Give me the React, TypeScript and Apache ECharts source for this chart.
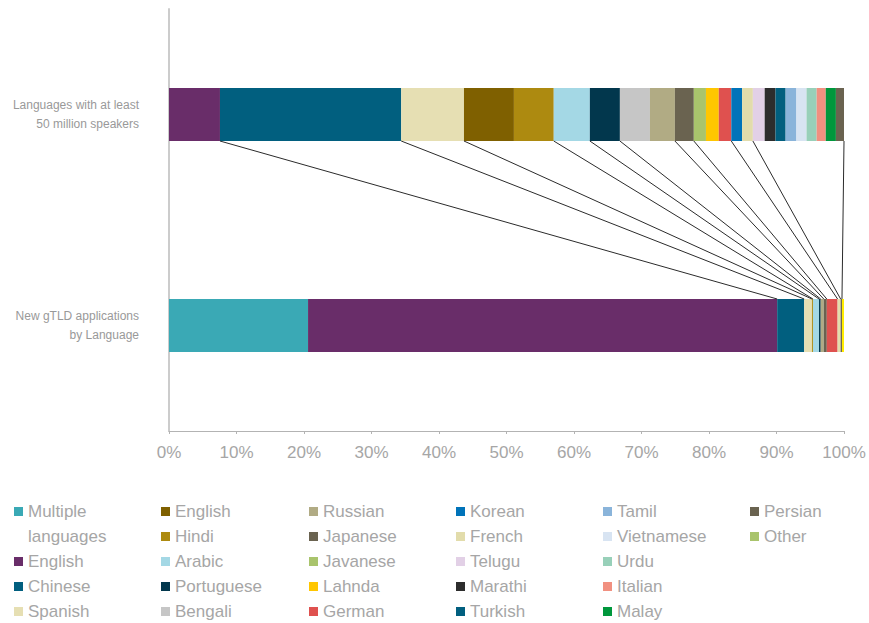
import React, { useEffect, useRef } from 'react';
import * as echarts from 'echarts';

// ---- Data ----
const categories = [
  'New gTLD applications\nby Language',
  'Languages with at least\n50 million speakers',
];

const languages = [
  'Multiple languages', 'English', 'Chinese', 'Spanish',
  'English', 'Hindi', 'Arabic', 'Portuguese', 'Bengali',
  'Russian', 'Japanese', 'Javanese', 'Lahnda', 'German',
  'Korean', 'French', 'Telugu', 'Marathi', 'Turkish',
  'Tamil', 'Vietnamese', 'Urdu', 'Italian', 'Malay',
  'Persian', 'Other',
];

// share (%) of languages with at least 50 million speakers
const speakersShare = [
  0, 7.55, 26.85, 9.3,
  7.4, 5.9, 5.35, 4.45, 4.45,
  3.7, 2.8, 1.8, 1.9, 1.85,
  1.6, 1.6, 1.75, 1.6, 1.5,
  1.6, 1.5, 1.5, 1.35, 1.5,
  1.2, 0,
];

// share (%) of new gTLD applications by language
const gtldShare = [
  20.6, 69.5, 4.0, 1.15,
  0, 0.15, 0.9, 0.25, 0,
  0.45, 0.45, 0, 0, 1.6,
  0, 0.45, 0, 0, 0,
  0, 0, 0, 0, 0,
  0.2, 0.3,
];

// legend columns (indices into languages)
const legendColumns = [[1, 2, 3], [4, 5, 6, 7, 8], [9, 10, 11, 12, 13], [14, 15, 16, 17, 18], [19, 20, 21, 22, 23], [24, 25]];

// ---- Styles ----
const barColors = [
  '#3AA9B5', '#692D69', '#015F7F', '#E6DFB3',
  '#7F6000', '#AD8A10', '#A4D8E5', '#02374D', '#C6C6C6',
  '#B1AB84', '#6A6350', '#A9C46C', '#FFC600', '#DF514F',
  '#0073B9', '#E2DCAB', '#E2D0E6', '#2D2D2D', '#015F7F',
  '#8AB4DA', '#D8E4F2', '#98D0B9', '#F19080', '#00973C',
  '#6A6350', '#FFEC00',
];
const legendColors = barColors.map((c, i) => (languages[i] === 'Other' ? '#A9C46C' : c));

const BAR_W = 53;
const FONT = '"Liberation Sans", Arial, Helvetica, sans-serif';
const TEXT_GREY = '#a6a6a6';
const legendLefts = [14, 161, 309, 456, 603, 750];
const ROW_H = 25;
const LEGEND_TOP = 499;

export default function App() {
  const ref = useRef<HTMLDivElement>(null);

  useEffect(() => {
    if (!ref.current) return;
    const chart = echarts.init(ref.current, null, { renderer: 'svg' });

    // connector lines: end of each language segment in both bars
    const links: number[][] = [];
    let cumTop = 0;
    let cumBot = 0;
    languages.forEach((_, i) => {
      cumTop += speakersShare[i];
      cumBot += gtldShare[i];
      if (speakersShare[i] > 0 && gtldShare[i] > 0) links.push([cumTop, cumBot, 0]);
    });

    const barSeries = languages.map((name, i) => ({
      type: 'bar',
      name,
      stack: 'total',
      barWidth: BAR_W,
      itemStyle: { color: barColors[i] },
      emphasis: { disabled: true },
      data: [gtldShare[i], speakersShare[i]],
    }));

    const legendTextStyle = { color: TEXT_GREY, fontSize: 17, fontFamily: FONT, lineHeight: ROW_H };
    const makeLegend = (idx: number[], left: number, top: number, formatter?: any) => ({
      orient: 'vertical',
      left,
      top,
      width: 140,
      height: 200,
      padding: 0,
      itemGap: 0,
      itemWidth: 9,
      itemHeight: 9,
      icon: 'rect',
      selectedMode: false,
      textStyle: legendTextStyle,
      formatter,
      data: idx.map((i) => ({ name: languages[i], itemStyle: { color: legendColors[i], borderWidth: 0 } })),
    });

    const legends: any[] = [
      makeLegend([0], legendLefts[0], LEGEND_TOP, () => 'Multiple'),
      makeLegend(legendColumns[0], legendLefts[0], LEGEND_TOP + 2 * ROW_H),
    ];
    for (let c = 1; c < legendColumns.length; c++) {
      legends.push(makeLegend(legendColumns[c], legendLefts[c], LEGEND_TOP));
    }

    chart.setOption({
      animation: false,
      grid: { left: 169, right: 25, top: 9, bottom: 192, containLabel: false },
      xAxis: {
        type: 'value',
        min: 0,
        max: 100,
        interval: 10,
        axisLine: { show: true, lineStyle: { color: '#b3b3b3', width: 1 } },
        axisTick: { show: true, length: 3, lineStyle: { color: '#b3b3b3' } },
        splitLine: { show: false },
        axisLabel: { formatter: '{value}%', color: TEXT_GREY, fontSize: 17, fontFamily: FONT, margin: 13 },
      },
      yAxis: {
        type: 'category',
        data: categories,
        axisLine: { show: true, lineStyle: { color: '#cccccc', width: 2 } },
        axisTick: { show: false },
        axisLabel: { color: '#999999', fontSize: 12, fontFamily: FONT, lineHeight: 19, margin: 30 },
      },
      legend: legends,
      graphic: [
        {
          type: 'text',
          left: 28,
          top: LEGEND_TOP + ROW_H,
          style: { text: 'languages', fill: TEXT_GREY, fontSize: 17, fontFamily: FONT, lineHeight: ROW_H },
        },
      ],
      series: [
        ...barSeries,
        {
          type: 'custom',
          name: 'links',
          coordinateSystem: 'cartesian2d',
          z: 5,
          silent: true,
          encode: { x: [0, 1], y: 2 },
          data: links,
          renderItem: (_params: any, api: any) => {
            const a = api.coord([api.value(0), 1]);
            const b = api.coord([api.value(1), 0]);
            return {
              type: 'line',
              shape: { x1: a[0], y1: a[1] + BAR_W / 2, x2: b[0], y2: b[1] - BAR_W / 2 },
              style: { stroke: '#2b2b2b', lineWidth: 1 },
            };
          },
        },
      ],
    });

    return () => chart.dispose();
  }, []);

  return (
    <div
      ref={ref}
      style={{ position: 'fixed', left: 0, top: 0, width: 869, height: 623, background: '#fff' }}
    />
  );
}
